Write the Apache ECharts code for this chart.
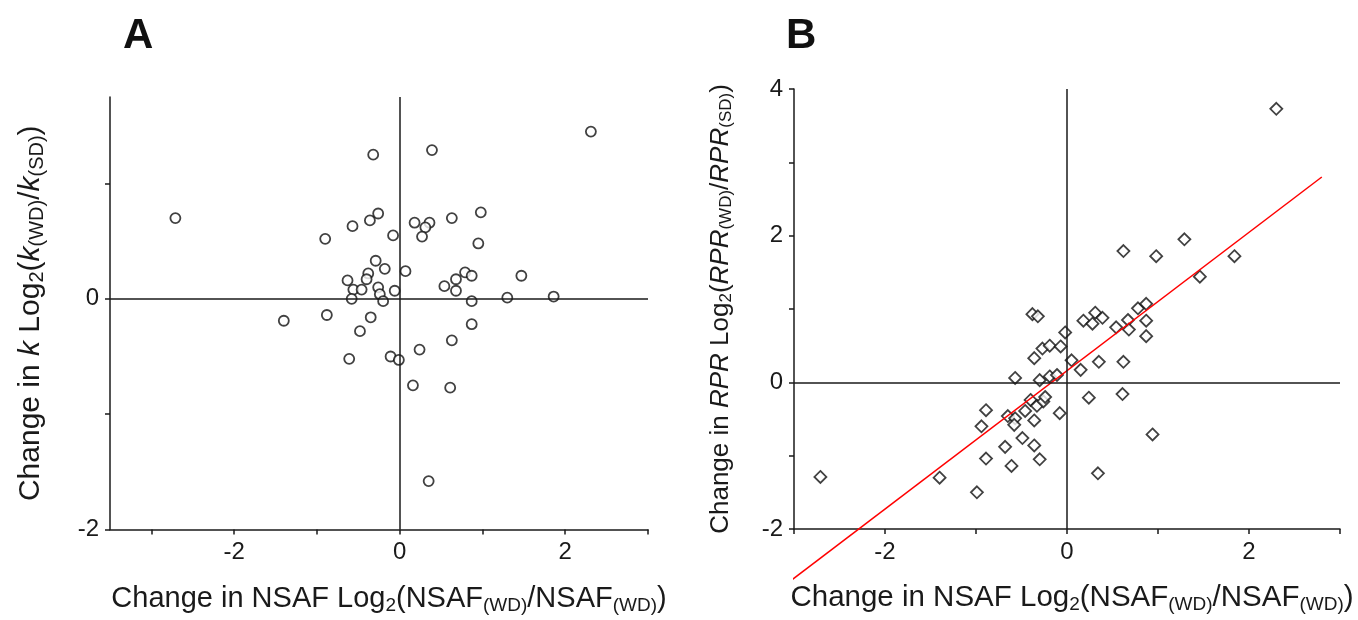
<!DOCTYPE html>
<html>
<head>
<meta charset="utf-8">
<script src="https://cdn.jsdelivr.net/npm/echarts@6/dist/echarts.min.js"></script>
<style>
  html, body { margin: 0; padding: 0; background: #fff; }
  #main { width: 1358px; height: 620px; }
</style>
</head>
<body>
<div id="main"></div>
<script>
// panel A: change in NSAF (x) vs change in k (y)
var aPoints = [
    [-0.32, 1.25], [-2.71, 0.70], [-0.26, 0.74], [-0.36, 0.68], [-0.57, 0.63],
    [-0.90, 0.52], [-0.08, 0.55], [-0.29, 0.33], [-0.18, 0.26], [-0.38, 0.22],
    [-0.40, 0.17], [-0.63, 0.16], [-0.56, 0.08], [-0.46, 0.08], [-0.26, 0.10],
    [-0.24, 0.04], [-0.06, 0.07], [-0.58, 0.00], [-0.20, -0.02],
    [2.31, 1.45], [0.39, 1.29], [0.98, 0.75], [0.63, 0.70], [0.18, 0.66],
    [0.36, 0.66], [0.31, 0.62], [0.27, 0.54], [0.95, 0.48], [0.07, 0.24],
    [0.79, 0.23], [0.87, 0.20], [1.47, 0.20], [0.68, 0.17], [0.54, 0.11],
    [0.68, 0.07], [0.87, -0.02], [1.30, 0.01], [1.86, 0.02],
    [-1.40, -0.19], [-0.88, -0.14], [-0.35, -0.16], [-0.48, -0.28],
    [-0.61, -0.52], [-0.11, -0.50], [-0.01, -0.53],
    [0.87, -0.22], [0.63, -0.36], [0.24, -0.44], [0.16, -0.75], [0.61, -0.77],
    [0.35, -1.58]
];

// panel B: change in NSAF (x) vs change in RPR (y)
var bPoints = [
    [-0.38, 0.93], [-0.32, 0.90], [-0.02, 0.68], [-0.27, 0.46], [-0.19, 0.50],
    [-0.07, 0.49], [-0.36, 0.33], [0.05, 0.30], [-0.57, 0.06], [-0.30, 0.03],
    [-0.19, 0.08], [-0.11, 0.10],
    [2.30, 3.73], [0.62, 1.79], [1.29, 1.95], [0.98, 1.72], [1.84, 1.72],
    [1.46, 1.44], [0.78, 1.01], [0.87, 1.07], [0.31, 0.95], [0.18, 0.84],
    [0.28, 0.80], [0.39, 0.88], [0.67, 0.85], [0.87, 0.84], [0.54, 0.75],
    [0.68, 0.72], [0.87, 0.63], [0.35, 0.28], [0.62, 0.28], [0.15, 0.17],
    [-2.71, -1.29], [-1.40, -1.30], [-0.99, -1.50], [-0.89, -0.38], [-0.94, -0.60],
    [-0.89, -1.04], [-0.65, -0.46], [-0.57, -0.49], [-0.58, -0.58], [-0.46, -0.39],
    [-0.40, -0.24], [-0.33, -0.32], [-0.26, -0.26], [-0.24, -0.20], [-0.36, -0.52],
    [-0.08, -0.42], [-0.49, -0.76], [-0.68, -0.88], [-0.36, -0.86], [-0.61, -1.14],
    [-0.30, -1.05],
    [0.24, -0.21], [0.61, -0.16], [0.94, -0.71], [0.34, -1.24]
];

// regression line end points (runs past the plot box at the lower left)
var fitLine = [[-3.21, -2.87], [2.80, 2.80]];

var xTicks = [-3, -2, -1, 0, 1, 2, 3];
var xLabels = [-2, 0, 2];
var aYTicks = [-2, -1, 0, 1];
var aYLabels = [-2, 0];
var bYTicks = [-2, -1, 0, 1, 2, 3, 4];
var bYLabels = [-2, 0, 2, 4];

var FONT = '"Liberation Sans", Arial, sans-serif';
var INK = '#1a1a1a';

function richFor(size) {
    var sub = Math.round(size * 0.66);
    return {
        n: {fontSize: size, fontFamily: FONT, color: INK, lineHeight: size + 9},
        i: {fontSize: size, fontFamily: FONT, color: INK, fontStyle: 'italic', lineHeight: size + 9},
        s: {fontSize: sub, fontFamily: FONT, color: INK, padding: [Math.round(size * 0.48), 0, 0, 0]}
    };
}

var xName = '{n|Change in NSAF Log}{s|2}{n|(NSAF}{s|(WD)}{n|/NSAF}{s|(WD)}{n|)}';
var aYName = '{n|Change in }{i|k}{n| Log}{s|2}{n|(}{i|k}{s|(WD)}{n|/}{i|k}{s|(SD)}{n|)}';
var bYName = '{n|Change in }{i|RPR}{n| Log}{s|2}{n|(}{i|RPR}{s|(WD)}{n|/}{i|RPR}{s|(SD)}{n|)}';

function valueAxis(idx, min, max, ticks, labels, name, size, gap, namePad) {
    return {
        type: 'value',
        gridIndex: idx,
        min: min,
        max: max,
        name: name,
        nameLocation: 'middle',
        nameGap: gap,
        nameTextStyle: {rich: richFor(size), padding: namePad},
        splitLine: {show: false},
        axisLine: {show: true, onZero: false, lineStyle: {color: INK, width: 1.5}},
        axisTick: {show: true, length: 5, customValues: ticks, lineStyle: {color: INK, width: 1.5}},
        axisLabel: {customValues: labels, color: INK, fontSize: 24, fontFamily: FONT, margin: 11}
    };
}

var zeroLines = {
    silent: true,
    symbol: 'none',
    label: {show: false},
    lineStyle: {color: INK, type: 'solid', width: 1.5},
    data: [{xAxis: 0}, {yAxis: 0}]
};

var chart = echarts.init(document.getElementById('main'));
chart.setOption({
    animation: false,
    backgroundColor: '#fff',
    title: [
        {text: 'A', left: 118, top: 10, textStyle: {fontSize: 42, fontWeight: 'bold', fontFamily: FONT, color: '#111'}},
        {text: 'B', left: 781, top: 10, textStyle: {fontSize: 42, fontWeight: 'bold', fontFamily: FONT, color: '#111'}}
    ],
    grid: [
        {left: 110, right: 710, top: 97, bottom: 90},
        {left: 794, right: 18, top: 89, bottom: 91}
    ],
    xAxis: [
        valueAxis(0, -3.5, 3, xTicks, xLabels, xName, 29, 50, [0, 0, 0, 20]),
        valueAxis(1, -3, 3, xTicks, xLabels, xName, 29.5, 50, [0, 0, 0, 10])
    ],
    yAxis: [
        valueAxis(0, -2, 1.75, aYTicks, aYLabels, aYName, 30, 60, 0),
        valueAxis(1, -2, 4, bYTicks, bYLabels, bYName, 26, 56, 0)
    ],
    series: [
        {
            type: 'scatter',
            xAxisIndex: 0,
            yAxisIndex: 0,
            symbol: 'circle',
            symbolSize: 10,
            itemStyle: {color: '#fff', borderColor: '#111', borderWidth: 1.8},
            data: aPoints,
            markLine: zeroLines
        },
        {
            type: 'scatter',
            xAxisIndex: 1,
            yAxisIndex: 1,
            symbol: 'diamond',
            symbolSize: 12,
            itemStyle: {color: '#fff', borderColor: '#111', borderWidth: 1.8},
            data: bPoints,
            markLine: zeroLines
        },
        {
            type: 'line',
            xAxisIndex: 1,
            yAxisIndex: 1,
            clip: false,
            symbol: 'none',
            z: 3,
            lineStyle: {color: '#f00', width: 1.5},
            data: fitLine
        }
    ]
});
</script>
</body>
</html>
